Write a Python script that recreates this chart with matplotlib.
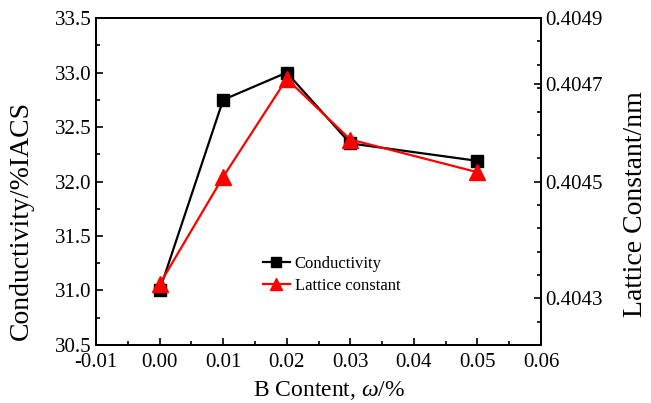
import numpy as np
import matplotlib.pyplot as plt
from matplotlib.ticker import MultipleLocator, FixedLocator, FixedFormatter

plt.rcParams['font.family'] = ['Liberation Serif', 'DejaVu Serif']
plt.rcParams['mathtext.fontset'] = 'custom'
plt.rcParams['mathtext.it'] = 'Liberation Serif:italic'
plt.rcParams['mathtext.rm'] = 'Liberation Serif'
plt.rcParams['axes.unicode_minus'] = False

# data
b_content = [0.00, 0.01, 0.02, 0.03, 0.05]
conductivity = [31.0, 32.75, 33.0, 32.35, 32.19]
lattice = [0.40433, 0.40456, 0.40477, 0.40464, 0.40457]

# right axis labels as printed (positions as they appear on the original axis)
right_ticks = [0.4043, 0.40455, 0.40476, 0.4049]
right_labels = ['0.4043', '0.4045', '0.4047', '0.4049']

fig = plt.figure(figsize=(6.51, 4.03), dpi=100)
ax = fig.add_axes([0.1475, 0.144, 0.6835, 0.811])
ax2 = ax.twinx()

l1, = ax.plot(b_content, conductivity, color='black', lw=1.6, marker='s',
              markersize=9, label='Conductivity')
l2, = ax2.plot(b_content, lattice, color='#ff0000', lw=1.6, marker='^',
               markersize=11, label='Lattice constant')

ax.set_xlim(-0.01, 0.06)
ax.set_ylim(30.5, 33.5)
ax2.set_ylim(0.4042, 0.4049)

ax.xaxis.set_major_locator(MultipleLocator(0.01))
ax.xaxis.set_minor_locator(MultipleLocator(0.005))
ax.yaxis.set_major_locator(MultipleLocator(0.5))
ax.yaxis.set_minor_locator(MultipleLocator(0.25))
ax.xaxis.set_major_formatter(plt.FormatStrFormatter('%.2f'))
ax.yaxis.set_major_formatter(plt.FormatStrFormatter('%.1f'))

ax2.yaxis.set_major_locator(FixedLocator(right_ticks))
ax2.yaxis.set_major_formatter(FixedFormatter(right_labels))
ax2.yaxis.set_minor_locator(MultipleLocator(0.00005))

for a in (ax, ax2):
    for s in a.spines.values():
        s.set_linewidth(1.3)
ax.tick_params(which='both', direction='in', labelsize=15, width=1.2,
               top=False, right=False, pad=3)
ax.tick_params(axis='x', pad=6)
ax.tick_params(which='major', length=5)
ax.tick_params(which='minor', length=3)
ax2.tick_params(which='both', direction='in', labelsize=15, width=1.2, pad=3)
ax2.tick_params(which='major', length=5)
ax2.tick_params(which='minor', length=3)

ax.set_xlabel(r'B Content, $\mathit{\omega}$/%', fontsize=17, labelpad=2)
ax.xaxis.set_label_coords(0.525, -0.105)
ax.set_ylabel('Conductivity/%IACS', fontsize=20)
ax.yaxis.set_label_coords(-0.14, 0.38)
ax2.set_ylabel('Lattice Constant/nm', fontsize=20)
ax2.yaxis.set_label_coords(1.184, 0.43)

ax.legend(handles=[l1, l2], loc='upper left', bbox_to_anchor=(0.375, 0.272),
          frameon=False, fontsize=12, handlelength=1.6, handletextpad=0.3,
          borderaxespad=0, borderpad=0, labelspacing=0.35, markerscale=0.75)

fig.savefig('out.png', dpi=100)
